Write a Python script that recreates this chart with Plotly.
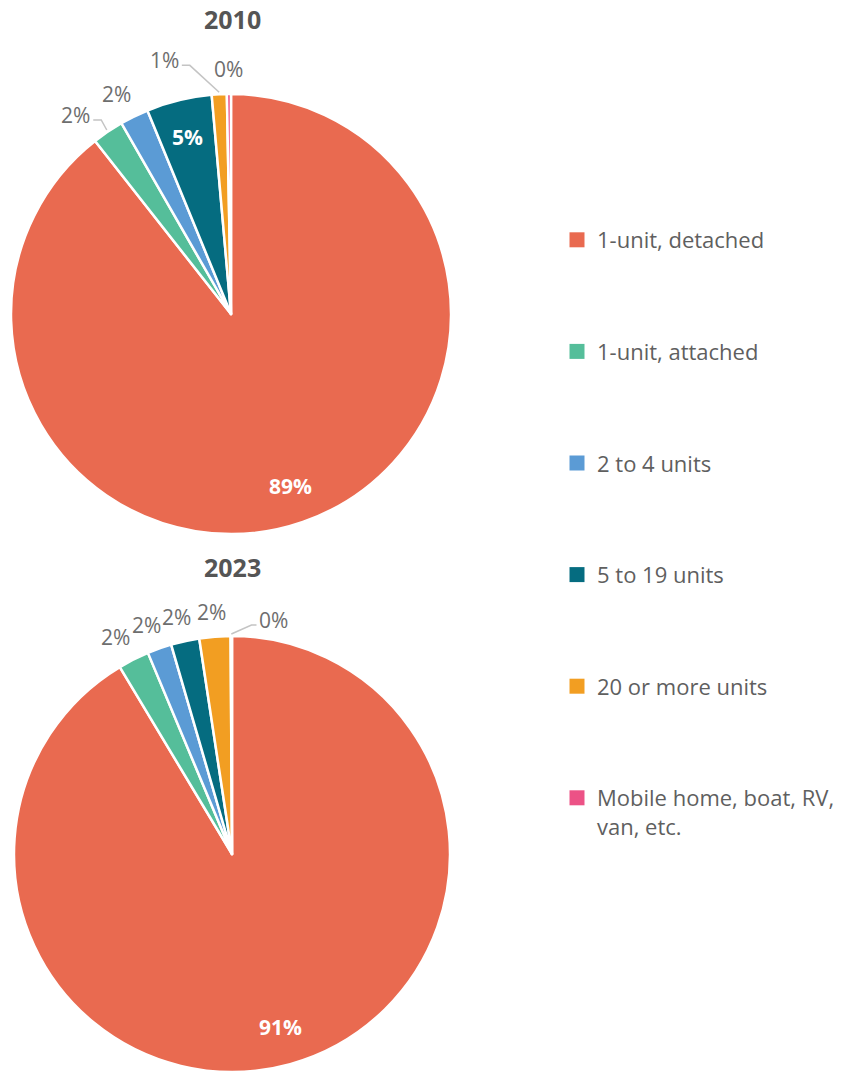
import math
import plotly.graph_objects as go

# Housing structure type shares (percent of housing units)
categories = [
    "1-unit, detached",
    "1-unit, attached",
    "2 to 4 units",
    "5 to 19 units",
    "20 or more units",
    "Mobile home, boat, RV,<br>van, etc.",
]
values_2010 = [89.4, 2.3, 2.1, 4.8, 1.1, 0.3]
values_2023 = [91.4, 2.3, 1.8, 2.1, 2.3, 0.1]
years = ["2010", "2023"]

colors = ["#E96A50", "#55BE9A", "#5B9BD5", "#056C80", "#F29E22", "#EC5286"]
FONT = "Open Sans"
GRAY = "#5f5f5f"
LABEL_GRAY = "#6e6e6e"
LINE_GRAY = "#c4c4c4"

W, H = 843, 1072
LABEL_SIZE = 21

# pie boxes in pixels: (left, right, top, bottom)
boxes = [(10, 452, 94, 534), (11, 453, 636, 1074)]
# slices whose labels are pushed aside to avoid overlapping a neighbour (pixel offsets)
label_nudge = {(0, 1): (-10, 4), (0, 4): (-53, -9), (1, 5): (42, 9)}

fig = go.Figure()


def px(x, y):
    return x / W, 1 - y / H


def add_pie(k, vals, box):
    x0, x1, y0, y1 = box
    dom_y = [max(0, 1 - y1 / H), 1 - y0 / H]
    fig.add_trace(go.Pie(
        labels=categories,
        values=vals,
        sort=False,
        direction="clockwise",
        rotation=0,
        domain=dict(x=[x0 / W, x1 / W], y=dom_y),
        marker=dict(colors=colors, line=dict(color="white", width=2.5)),
        textinfo="none",
        showlegend=False,
        hoverinfo="label+percent",
    ))

    # geometry of the pie as plotly lays it out inside its domain
    wpx = x1 - x0
    hpx = (dom_y[1] - dom_y[0]) * H
    r = min(wpx, hpx) / 2
    cx = x0 + wpx / 2
    cy = H * (1 - (dom_y[0] + dom_y[1]) / 2)

    total = sum(vals)
    cum = 0.0
    for i, v in enumerate(vals):
        frac = v / total
        mid = 2 * math.pi * (cum + frac / 2)
        cum += frac
        dx, dy = math.sin(mid), -math.cos(mid)
        text = f"{round(frac * 100)}%"
        if frac > 0.04:
            lx, ly = cx + dx * (r - 38), cy + dy * (r - 38)
            fig.add_annotation(
                text=f"<b>{text}</b>", x=px(lx, ly)[0], y=px(lx, ly)[1],
                xref="paper", yref="paper", showarrow=False,
                font=dict(family=FONT, size=LABEL_SIZE, color="white"),
                xanchor="center", yanchor="middle",
            )
            continue
        lx = cx + dx * (r + 25) + dx * 15
        ly = cy + dy * (r + 25)
        nudge = label_nudge.get((k, i))
        if nudge:
            lx += nudge[0]
            ly += nudge[1]
            half = 0.7 * LABEL_SIZE * len(text) / 2
            ex, ey = cx + dx * (r + 2), cy + dy * (r + 2)
            if lx < ex:
                p2 = (lx + half + 3, ly + 5)
                p1 = (p2[0] + 8, p2[1])
            else:
                p2 = (lx - half - 2, ly + 5)
                p1 = (p2[0] - 5, p2[1])
            pts = [px(ex, ey), px(*p1), px(*p2)]
            path = "M {} {} L {} {} L {} {}".format(*[c for p in pts for c in p])
            fig.add_shape(type="path", path=path, xref="paper", yref="paper",
                          line=dict(color=LINE_GRAY, width=1.5))
        fig.add_annotation(
            text=text, x=px(lx, ly)[0], y=px(lx, ly)[1],
            xref="paper", yref="paper", showarrow=False,
            font=dict(family=FONT, size=LABEL_SIZE, color=LABEL_GRAY),
            xanchor="center", yanchor="middle",
        )


add_pie(0, values_2010, boxes[0])
add_pie(1, values_2023, boxes[1])

# Legend entries as square markers, one group per category for even spacing
for name, col in zip(categories, colors):
    fig.add_trace(go.Scatter(
        x=[None], y=[None], mode="markers", name=name,
        marker=dict(symbol="square", size=15, color=col),
        legendgroup=name, showlegend=True,
    ))

for txt, y in zip(years, [19, 567]):
    fig.add_annotation(
        text=f"<b>{txt}</b>", x=232 / W, y=1 - y / H, xref="paper", yref="paper",
        showarrow=False, font=dict(family=FONT, size=25, color="#555555"),
        xanchor="center", yanchor="middle",
    )

fig.update_layout(
    width=W, height=H,
    margin=dict(l=0, r=0, t=0, b=0),
    paper_bgcolor="white", plot_bgcolor="white",
    xaxis=dict(visible=False), yaxis=dict(visible=False),
    font=dict(family=FONT, color=GRAY),
    legend=dict(
        x=557 / W, y=1 - 219 / H, xanchor="left", yanchor="top",
        font=dict(family=FONT, size=22, color=GRAY),
        tracegroupgap=80, valign="top",
        bgcolor="rgba(0,0,0,0)",
    ),
)

fig.write_html("out.html")
